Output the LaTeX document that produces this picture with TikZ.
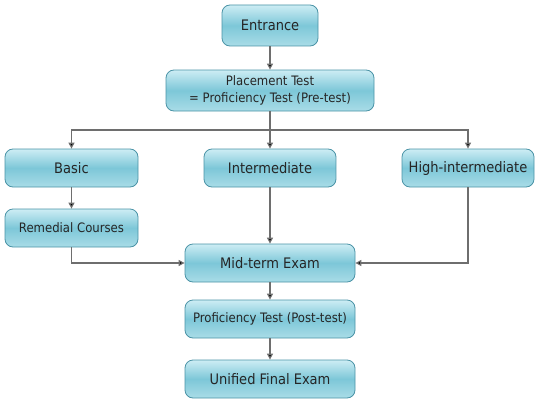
\documentclass[tikz,border=0pt]{standalone}
\usepackage{fontspec}
\setmainfont{DejaVu Sans Condensed}
\usetikzlibrary{arrows.meta}
\definecolor{bordc}{HTML}{4A93A6}
\definecolor{topc}{HTML}{CDEDF4}
\definecolor{midc}{HTML}{7DC7D8}
\definecolor{botc}{HTML}{A9DCE7}
\definecolor{linec}{HTML}{6E6E6E}
\begin{document}
\begin{tikzpicture}[x=1pt,y=-1pt,
  box/.style={draw=bordc, line width=0.8pt, rounded corners=8pt, top color=topc, bottom color=botc, middle color=midc, shading angle=0, text=black!85, inner sep=0pt, align=center},
  big/.style={font=\fontsize{14.5}{16}\selectfont},
  small/.style={font=\fontsize{13}{17}\selectfont},
  conn/.style={draw=linec, line width=1.2pt},
  arr/.style={conn, -{Triangle[length=6pt,width=6pt,fill=black]}}]
\useasboundingbox (0,0) rectangle (540,404);
\node[box,big,minimum width=96pt,minimum height=41pt] (ent) at (270,25.5) {Entrance};
\node[box,small,minimum width=208pt,minimum height=41pt] (plc) at (270,90.5) {Placement Test\\= Proficiency Test (Pre-test)};
\node[box,big,minimum width=133pt,minimum height=38pt] (bas) at (71.5,168) {Basic};
\node[box,big,minimum width=132pt,minimum height=38pt] (int) at (270,168) {Intermediate};
\node[box,big,minimum width=132pt,minimum height=38pt] (hig) at (468,168) {High-intermediate};
\node[box,small,minimum width=133pt,minimum height=38pt] (rem) at (71.5,228) {Remedial Courses};
\node[box,big,minimum width=170pt,minimum height=38pt] (mid) at (270,263) {Mid-term Exam};
\node[box,small,minimum width=170pt,minimum height=38pt] (pro) at (270,319) {Proficiency Test (Post-test)};
\node[box,big,minimum width=170pt,minimum height=38pt] (uni) at (270,379) {Unified Final Exam};
\coordinate (j) at (270,130);
\draw[arr] (ent) -- (plc);
\draw[conn] (plc) -- (j);
\draw[arr] (j) -| (bas);
\draw[arr] (j) -| (hig);
\draw[arr] (j) -- (int);
\draw[arr] (bas) -- (rem);
\draw[arr] (int) -- (mid);
\draw[arr] (rem.south) |- (mid.west);
\draw[arr] (hig.south) |- (mid.east);
\draw[arr] (mid) -- (pro);
\draw[arr] (pro) -- (uni);
\end{tikzpicture}
\end{document}
